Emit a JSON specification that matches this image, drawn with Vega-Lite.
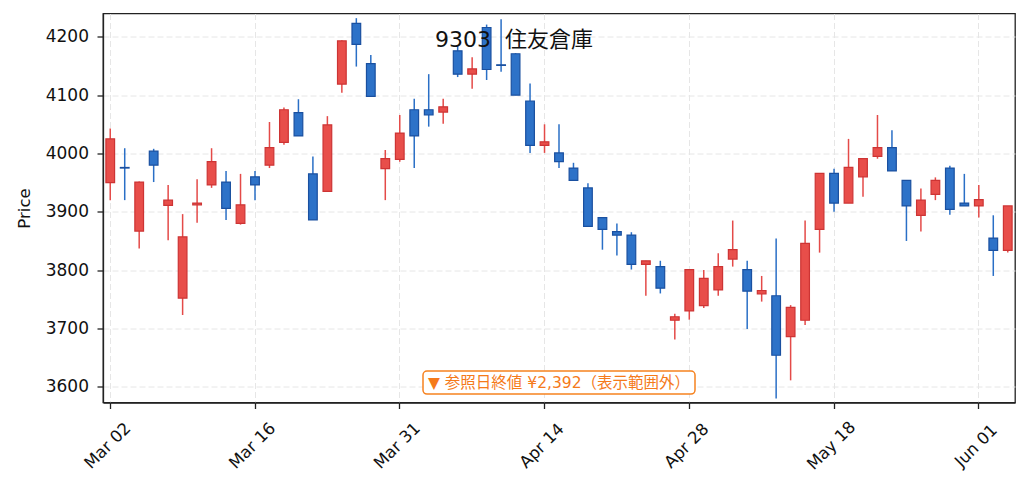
{
  "$schema": "https://vega.github.io/schema/vega-lite/v6.json",
  "width": 912,
  "height": 389,
  "autosize": "none",
  "padding": {"left": 103, "top": 13.5, "right": 14, "bottom": 88.5},
  "background": "white",
  "config": {
    "view": {"stroke": "#222222", "strokeWidth": 1.3},
    "axis": {"domainColor": "#222222", "domainWidth": 1.3}
  },
  "title": {
    "text": "9303\u00a0 住友倉庫",
    "fontSize": 22,
    "font": "DejaVu Sans, Noto Sans CJK JP",
    "fontWeight": "normal",
    "color": "#111111",
    "anchor": "middle",
    "frame": "group",
    "dx": -45,
    "dy": 55.5,
    "offset": 0,
    "baseline": "alphabetic"
  },
  "data": {
    "values": [
      {"date": "2026-03-02", "open": 3950, "high": 4043, "low": 3920, "close": 4025},
      {"date": "2026-03-03", "open": 3976, "high": 4009, "low": 3920, "close": 3975},
      {"date": "2026-03-04", "open": 3867, "high": 3952, "low": 3837, "close": 3951},
      {"date": "2026-03-05", "open": 4004, "high": 4008, "low": 3951, "close": 3980},
      {"date": "2026-03-06", "open": 3911, "high": 3946, "low": 3851, "close": 3920},
      {"date": "2026-03-09", "open": 3752, "high": 3896, "low": 3723, "close": 3857},
      {"date": "2026-03-10", "open": 3912, "high": 3956, "low": 3881, "close": 3915},
      {"date": "2026-03-11", "open": 3946, "high": 4009, "low": 3941, "close": 3986},
      {"date": "2026-03-12", "open": 3951, "high": 3970, "low": 3886, "close": 3906},
      {"date": "2026-03-13", "open": 3880, "high": 3965, "low": 3878, "close": 3912},
      {"date": "2026-03-16", "open": 3960, "high": 3970, "low": 3920, "close": 3946},
      {"date": "2026-03-17", "open": 3980, "high": 4054, "low": 3975, "close": 4010},
      {"date": "2026-03-18", "open": 4019, "high": 4079, "low": 4015, "close": 4075},
      {"date": "2026-03-19", "open": 4070, "high": 4093, "low": 4030, "close": 4030},
      {"date": "2026-03-23", "open": 3965, "high": 3995, "low": 3886, "close": 3886},
      {"date": "2026-03-24", "open": 3935, "high": 4064, "low": 3935, "close": 4049},
      {"date": "2026-03-25", "open": 4119, "high": 4194, "low": 4104, "close": 4193},
      {"date": "2026-03-26", "open": 4223, "high": 4232, "low": 4149, "close": 4187},
      {"date": "2026-03-27", "open": 4154, "high": 4169, "low": 4098, "close": 4098},
      {"date": "2026-03-30", "open": 3974, "high": 4006, "low": 3920, "close": 3991},
      {"date": "2026-03-31", "open": 3990, "high": 4066, "low": 3986, "close": 4035},
      {"date": "2026-04-01", "open": 4075, "high": 4094, "low": 3975, "close": 4030},
      {"date": "2026-04-02", "open": 4075, "high": 4136, "low": 4046, "close": 4066},
      {"date": "2026-04-03", "open": 4071, "high": 4094, "low": 4051, "close": 4080},
      {"date": "2026-04-06", "open": 4176, "high": 4186, "low": 4131, "close": 4136},
      {"date": "2026-04-07", "open": 4136, "high": 4165, "low": 4111, "close": 4145},
      {"date": "2026-04-08", "open": 4216, "high": 4221, "low": 4126, "close": 4144},
      {"date": "2026-04-09", "open": 4152, "high": 4230, "low": 4140, "close": 4151},
      {"date": "2026-04-10", "open": 4171, "high": 4172, "low": 4100, "close": 4100},
      {"date": "2026-04-13", "open": 4090, "high": 4120, "low": 4001, "close": 4014},
      {"date": "2026-04-14", "open": 4014, "high": 4050, "low": 4001, "close": 4020},
      {"date": "2026-04-15", "open": 4001, "high": 4050, "low": 3975, "close": 3986},
      {"date": "2026-04-16", "open": 3975, "high": 3984, "low": 3954, "close": 3954},
      {"date": "2026-04-17", "open": 3941, "high": 3949, "low": 3875, "close": 3875},
      {"date": "2026-04-20", "open": 3890, "high": 3890, "low": 3835, "close": 3870},
      {"date": "2026-04-21", "open": 3866, "high": 3880, "low": 3825, "close": 3860},
      {"date": "2026-04-22", "open": 3860, "high": 3865, "low": 3801, "close": 3810},
      {"date": "2026-04-23", "open": 3810, "high": 3816, "low": 3756, "close": 3816},
      {"date": "2026-04-24", "open": 3806, "high": 3816, "low": 3760, "close": 3769},
      {"date": "2026-04-27", "open": 3714, "high": 3725, "low": 3681, "close": 3720},
      {"date": "2026-04-28", "open": 3730, "high": 3801, "low": 3715, "close": 3801},
      {"date": "2026-04-30", "open": 3739, "high": 3800, "low": 3735, "close": 3786},
      {"date": "2026-05-01", "open": 3766, "high": 3829, "low": 3756, "close": 3806},
      {"date": "2026-05-07", "open": 3819, "high": 3885, "low": 3806, "close": 3835},
      {"date": "2026-05-08", "open": 3801, "high": 3816, "low": 3699, "close": 3764},
      {"date": "2026-05-11", "open": 3759, "high": 3790, "low": 3746, "close": 3765},
      {"date": "2026-05-12", "open": 3756, "high": 3854, "low": 3580, "close": 3654},
      {"date": "2026-05-13", "open": 3686, "high": 3740, "low": 3611, "close": 3736},
      {"date": "2026-05-14", "open": 3714, "high": 3885, "low": 3706, "close": 3846},
      {"date": "2026-05-15", "open": 3870, "high": 3966, "low": 3830, "close": 3966},
      {"date": "2026-05-18", "open": 3966, "high": 3974, "low": 3900, "close": 3915},
      {"date": "2026-05-19", "open": 3915, "high": 4025, "low": 3915, "close": 3976},
      {"date": "2026-05-20", "open": 3960, "high": 3991, "low": 3926, "close": 3991},
      {"date": "2026-05-21", "open": 3995, "high": 4066, "low": 3991, "close": 4010},
      {"date": "2026-05-22", "open": 4010, "high": 4040, "low": 3970, "close": 3970},
      {"date": "2026-05-25", "open": 3954, "high": 3954, "low": 3850, "close": 3910},
      {"date": "2026-05-26", "open": 3894, "high": 3940, "low": 3866, "close": 3920},
      {"date": "2026-05-27", "open": 3930, "high": 3959, "low": 3920, "close": 3954},
      {"date": "2026-05-28", "open": 3975, "high": 3979, "low": 3895, "close": 3904},
      {"date": "2026-05-29", "open": 3915, "high": 3965, "low": 3910, "close": 3910},
      {"date": "2026-06-01", "open": 3910, "high": 3946, "low": 3890, "close": 3921},
      {"date": "2026-06-02", "open": 3855, "high": 3894, "low": 3790, "close": 3834},
      {"date": "2026-06-03", "open": 3834, "high": 3910, "low": 3830, "close": 3910}
    ]
  },
  "encoding": {
    "x": {
      "field": "date",
      "type": "ordinal",
      "scale": {"paddingInner": 0, "paddingOuter": 0},
      "title": null,
      "axis": {
        "values": ["2026-03-02", "2026-03-16", "2026-03-31", "2026-04-14", "2026-04-28", "2026-05-18", "2026-06-01"],
        "labelExpr": "utcFormat(toDate(datum.value), '%b %d')",
        "bandPosition": 0.5,
        "labelAngle": -45,
        "labelAlign": "center",
        "labelBaseline": "middle",
        "labelPadding": 37,
        "labelOffset": -2.5,
        "labelOverlap": false,
        "labelFlush": false,
        "labelFont": "DejaVu Sans",
        "labelFontSize": 16.5,
        "labelColor": "#111111",
        "tickSize": 6,
        "tickWidth": 1.3,
        "tickColor": "#222222",
        "grid": true,
        "gridColor": "#e6e6e6",
        "gridDash": [6, 3],
        "gridWidth": 1
      }
    }
  },
  "layer": [
    {
      "mark": {"type": "rule", "strokeWidth": 1.5},
      "encoding": {
        "y": {
          "field": "low",
          "type": "quantitative",
          "scale": {"domain": [3573, 4240], "nice": false, "zero": false},
          "title": "Price",
          "axis": {
            "values": [3600, 3700, 3800, 3900, 4000, 4100, 4200],
            "format": "d",
            "labelFont": "DejaVu Sans",
            "labelFontSize": 17,
            "labelColor": "#111111",
            "labelPadding": 8.5,
            "tickSize": 6,
            "tickWidth": 1.3,
            "tickColor": "#222222",
            "grid": true,
            "gridColor": "#e6e6e6",
            "gridDash": [6, 3],
            "gridWidth": 1,
            "titleFont": "DejaVu Sans",
            "titleFontSize": 16.5,
            "titleFontWeight": "normal",
            "titleColor": "#111111",
            "titleAngle": -90,
            "titleAlign": "center",
            "titleBaseline": "alphabetic",
            "titleX": -73.7,
            "titleY": 194.5
          }
        },
        "y2": {"field": "high"},
        "color": {
          "condition": {"test": "datum.close > datum.open", "value": "#e44a48"},
          "value": "#2a6fc6"
        }
      }
    },
    {
      "mark": {"type": "bar", "width": {"band": 0.6}, "strokeWidth": 1.2},
      "encoding": {
        "y": {"field": "open", "type": "quantitative", "title": "Price"},
        "y2": {"field": "close"},
        "fill": {
          "condition": {"test": "datum.close > datum.open", "value": "#e84e4a"},
          "value": "#2d72c8"
        },
        "stroke": {
          "condition": {"test": "datum.close > datum.open", "value": "#cd3434"},
          "value": "#1a50a0"
        }
      }
    },
    {
      "data": {"values": [{"date": "2026-04-15", "label": "▼ 参照日終値 ¥2,392（表示範囲外）", "lo": 3587.5, "hi": 3627, "mid": 3607}]},
      "mark": {"type": "bar", "width": 272, "cornerRadius": 4, "fill": "white", "stroke": "#f6821f", "strokeWidth": 1.5},
      "encoding": {
        "y": {"field": "lo", "type": "quantitative", "title": "Price"},
        "y2": {"field": "hi"}
      }
    },
    {
      "data": {"values": [{"date": "2026-04-15", "label": "▼ 参照日終値 ¥2,392（表示範囲外）", "lo": 3587.5, "hi": 3627, "mid": 3607}]},
      "mark": {"type": "text", "font": "DejaVu Sans, Noto Sans CJK JP", "fontSize": 15.5, "color": "#f57a1a", "align": "center", "baseline": "middle"},
      "encoding": {
        "y": {"field": "mid", "type": "quantitative", "title": "Price"},
        "text": {"field": "label"}
      }
    }
  ]
}
